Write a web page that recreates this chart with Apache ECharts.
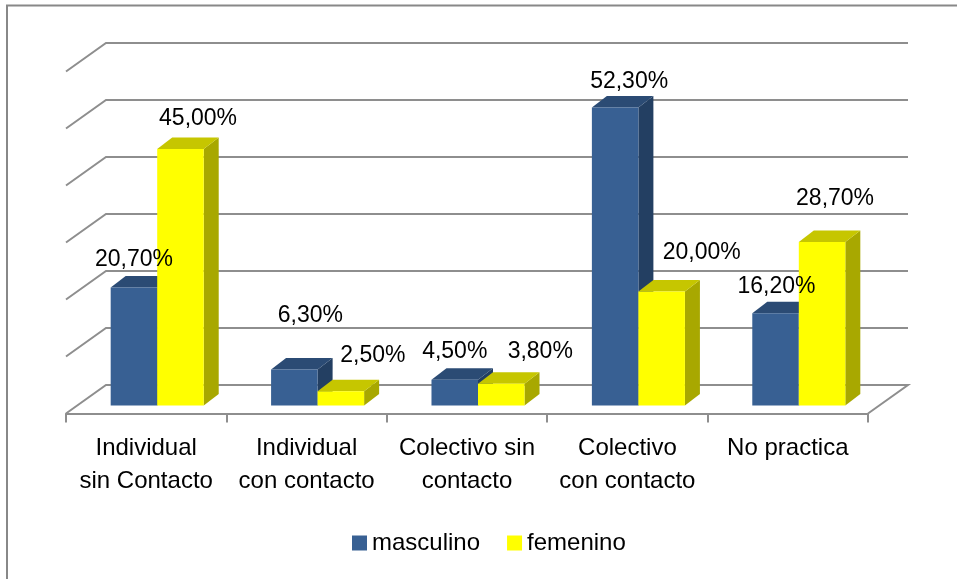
<!DOCTYPE html>
<html><head><meta charset="utf-8">
<script src="https://cdn.jsdelivr.net/npm/echarts@6/dist/echarts.min.js"></script>
<style>html,body{margin:0;padding:0;background:#fff}#c{width:957px;height:579px}</style>
</head><body><div id="c"></div>
<script>
// ---- data ----
const categories = ['Individual\nsin Contacto', 'Individual\ncon contacto', 'Colectivo sin\ncontacto', 'Colectivo\ncon contacto', 'No practica'];
const seriesNames = ['masculino', 'femenino'];
const masculino = [20.7, 6.3, 4.5, 52.3, 16.2];
const femenino = [45.0, 2.5, 3.8, 20.0, 28.7];
const valueTicks = [0, 10, 20, 30, 40, 50, 60];

// ---- layout (not data) ----
const mascLabelNudge = [[0, -27.5], [16, -53.6], [0, -28], [14, -26], [1, -27]];
const femLabelNudge = [[17.6, -30], [32, -36], [39, -32], [40, -38.5], [13, -43]];
const DEPTH = { dx: 40, dy: -28.5 };   // floor front -> back wall
const PLANE = { dx: 11, dy: -8 };      // floor front -> bar front plane
const BARD = { dx: 15, dy: -11.5 };    // bar depth
const BAR_FRAC = 0.29;
const FONT = '"Liberation Sans", Arial, sans-serif';

const COLORS = [
  { front: '#386093', top: '#2B4B74', side: '#233F62' },
  { front: '#FFFF00', top: '#C6C600', side: '#A8A800' }
];

function barGeom(api, si) {
  const ci = api.value(0), v = api.value(1);
  const base = api.coord([ci, 0]);
  const top = api.coord([ci, v]);
  const w = api.size([1, 0])[0] * BAR_FRAC;
  const cx = base[0] + PLANE.dx + (si === 0 ? -w / 2 : w / 2);
  return { x0: cx - w / 2, x1: cx + w / 2, cx: cx, yb: base[1] + PLANE.dy, yt: top[1] + PLANE.dy, v: v, ci: ci };
}

function barRender(si) {
  const c = COLORS[si];
  return function (params, api) {
    const g = barGeom(api, si);
    const dx = BARD.dx, dy = BARD.dy;
    return {
      type: 'group',
      children: [
        { type: 'polygon', shape: { points: [[g.x1, g.yt], [g.x1 + dx, g.yt + dy], [g.x1 + dx, g.yb + dy], [g.x1, g.yb]] }, style: { fill: c.side } },
        { type: 'polygon', shape: { points: [[g.x0, g.yt], [g.x0 + dx, g.yt + dy], [g.x1 + dx, g.yt + dy], [g.x1, g.yt]] }, style: { fill: c.top } },
        { type: 'polygon', shape: { points: [[g.x0, g.yt], [g.x1, g.yt], [g.x1, g.yb], [g.x0, g.yb]] }, style: { fill: c.front } }
      ]
    };
  };
}

function labelRender(si) {
  const nudge = si === 0 ? mascLabelNudge : femLabelNudge;
  return function (params, api) {
    const g = barGeom(api, si);
    const n = nudge[params.dataIndex];
    return {
      type: 'text',
      x: g.cx + n[0], y: g.yt + n[1],
      style: {
        text: g.v.toFixed(2).replace('.', ',') + '%',
        fill: '#000', fontSize: 23, fontFamily: FONT,
        align: 'center', verticalAlign: 'middle'
      }
    };
  };
}

function wallRender(params, api) {
  const cs = params.coordSys;
  const L = cs.x, R = cs.x + cs.width;
  const v = api.value(1);
  const y = api.coord([0, v])[1];
  const pts = [[L, y], [L + DEPTH.dx, y + DEPTH.dy], [R + DEPTH.dx, y + DEPTH.dy]];
  if (v === 0) pts.push([R, y]);
  return { type: 'polyline', shape: { points: pts }, style: { stroke: '#8E8E8E', lineWidth: 2, fill: null } };
}

const chart = echarts.init(document.getElementById('c'), null, { renderer: 'canvas' });
chart.setOption({
  animation: false,
  backgroundColor: '#fff',
  graphic: [{ type: 'polyline', shape: { points: [[7, 579], [7, 5.5], [957, 5.5]] }, style: { stroke: '#888', lineWidth: 2, fill: null } }],
  grid: { left: 66, right: 89, top: 71.5, bottom: 165.5 },
  xAxis: {
    type: 'category', data: categories, boundaryGap: true,
    axisLine: { show: true, lineStyle: { color: '#8E8E8E', width: 2 } },
    axisTick: { show: true, length: 9, lineStyle: { color: '#8E8E8E', width: 2 } },
    axisLabel: { interval: 0, color: '#000', fontSize: 24, fontFamily: FONT, lineHeight: 33, margin: 18 },
    splitLine: { show: false }
  },
  yAxis: { type: 'value', min: 0, max: 60, interval: 10, show: false },
  legend: {
    data: seriesNames, left: 347, top: 524, icon: 'rect', itemWidth: 15, itemHeight: 15, itemGap: 27,
    textStyle: { color: '#000', fontSize: 24, fontFamily: FONT, lineHeight: 28 }
  },
  series: [
    { type: 'custom', name: 'wall', z: 1, silent: true, renderItem: wallRender, data: valueTicks.map(v => [0, v]), encode: { x: 0, y: 1 } },
    { type: 'custom', name: seriesNames[0], z: 2, renderItem: barRender(0), itemStyle: { color: COLORS[0].front }, data: masculino.map((v, i) => [i, v]), encode: { x: 0, y: 1 } },
    { type: 'custom', name: seriesNames[1], z: 3, renderItem: barRender(1), itemStyle: { color: COLORS[1].front }, data: femenino.map((v, i) => [i, v]), encode: { x: 0, y: 1 } },
    { type: 'custom', name: 'lab0', z: 10, silent: true, renderItem: labelRender(0), data: masculino.map((v, i) => [i, v]), encode: { x: 0, y: 1 } },
    { type: 'custom', name: 'lab1', z: 10, silent: true, renderItem: labelRender(1), data: femenino.map((v, i) => [i, v]), encode: { x: 0, y: 1 } }
  ]
});
</script></body></html>
